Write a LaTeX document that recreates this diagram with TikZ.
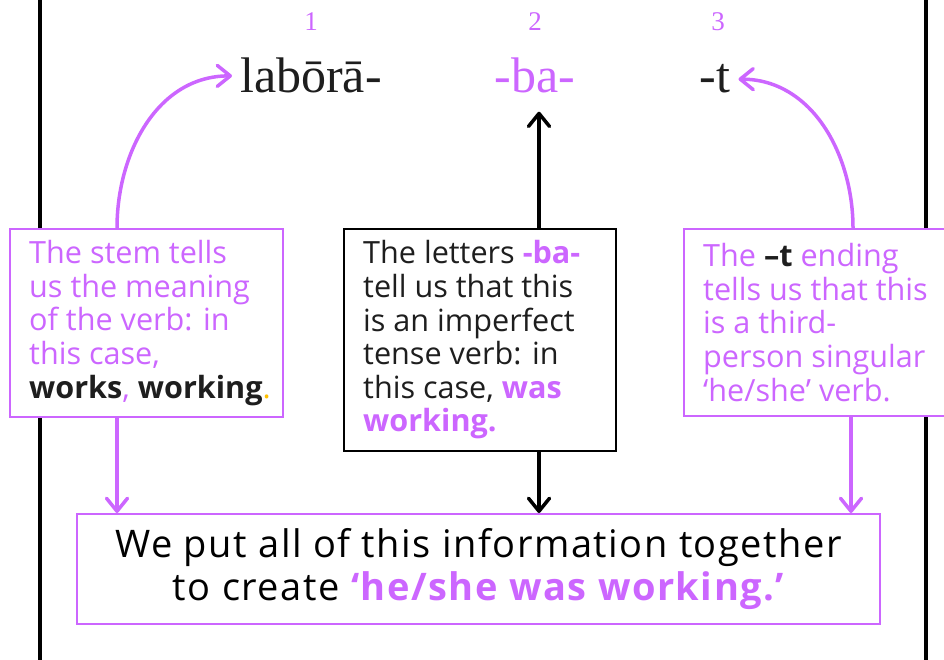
\documentclass[tikz,border=0pt]{standalone}
\usepackage{fontspec}
\setmainfont{Liberation Serif}
\newfontfamily\hand{Open Sans}
\newfontfamily\handwide[LetterSpace=4]{Open Sans}
\usetikzlibrary{arrows.meta}
\definecolor{lilac}{RGB}{204,102,255}
\definecolor{ink}{RGB}{30,30,30}
\definecolor{amber}{RGB}{255,192,0}
\tikzset{
  frameline/.style={line width=4pt, black},
  infobox/.style={draw, line width=2pt, fill=white, inner sep=0pt},
  boxtext/.style={font=\hand\fontsize{30.6}{33.6}\selectfont, align=left, inner sep=0pt, anchor=west},
  word/.style={font=\fontsize{50}{50}\selectfont, inner xsep=8pt, inner ysep=8pt, anchor=base},
  num/.style={font=\fontsize{27}{27}\selectfont, text=lilac},
  tip/.style={-{Straight Barb[length=13pt,width=21pt,line cap=round,line join=round]}, line width=3.5pt, line cap=round},
}
\begin{document}
\begin{tikzpicture}[x=1pt,y=-1pt]
\useasboundingbox (0,0) rectangle (944,660);

% outer frame sides
\draw[frameline] (40,-5) -- (40,665);
\draw[frameline] (926,-5) -- (926,665);

% numbers
\node[num] (n1) at (311,22) {1};
\node[num] (n2) at (535,22) {2};
\node[num] (n3) at (718,22) {3};

% the verb split into its parts
\node[word, text=ink] (w1) at (311,93) {labōrā-};
\node[word, text=lilac] (w2) at (535,93) {-ba-};
\node[word, text=ink] (w3) at (715,93) {-t};

% explanation boxes
\node[infobox, draw=lilac, minimum width=273pt, minimum height=188pt] (lbox) at (146.5,323) {};
\node[infobox, draw=black, minimum width=272pt, minimum height=222pt] (mbox) at (480,340) {};
\node[infobox, draw=lilac, minimum width=276pt, minimum height=187pt] (rbox) at (822,322.5) {};
\node[infobox, draw=lilac, minimum width=803pt, minimum height=110pt] (bbox) at (478.5,569) {};

\node[boxtext, text=lilac] (ltext) at ([xshift=20pt]lbox.west)
  {The stem tells\\us the meaning\\of the verb: in\\this case,\\{\color{ink}\bfseries works}, {\color{ink}\bfseries working}{\color{amber}.}};
\node[boxtext, text=ink] (mtext) at ([xshift=20pt]mbox.west)
  {The letters {\color{lilac}\bfseries -ba-}\\tell us that this\\is an imperfect\\tense verb: in\\this case, {\color{lilac}\bfseries was}\\{\color{lilac}\bfseries working.}};
\node[boxtext, text=lilac] (rtext) at ([xshift=20pt]rbox.west)
  {The {\color{ink}\bfseries –t} ending\\tells us that this\\is a third-\\person singular\\‘he/she’ verb.};
\node[font=\handwide\fontsize{38}{43}\selectfont, align=center, inner sep=0pt, text=black] (btext) at (bbox.center)
  {We put all of this information together\\to create {\color{lilac}\bfseries ‘he/she was working.’}};

% arrows up to the word parts
\draw[tip, lilac] ([xshift=-29.5pt]lbox.north) to[out=90, in=180] (w1.west);
\draw[tip, lilac] ([xshift=31pt]rbox.north) to[out=90, in=0] (w3.east);
\draw[tip, black, shorten >=10pt] ([xshift=59pt]mbox.north) -- ([xshift=59pt]mbox.north |- w2.south);

% arrows down to the summary
\draw[tip, lilac] ([xshift=-29.5pt]lbox.south) -- ([xshift=-29.5pt]lbox.south |- bbox.north);
\draw[tip, black] ([xshift=59pt]mbox.south) -- ([xshift=59pt]mbox.south |- bbox.north);
\draw[tip, lilac] ([xshift=29pt]rbox.south) -- ([xshift=29pt]rbox.south |- bbox.north);
\end{tikzpicture}
\end{document}
